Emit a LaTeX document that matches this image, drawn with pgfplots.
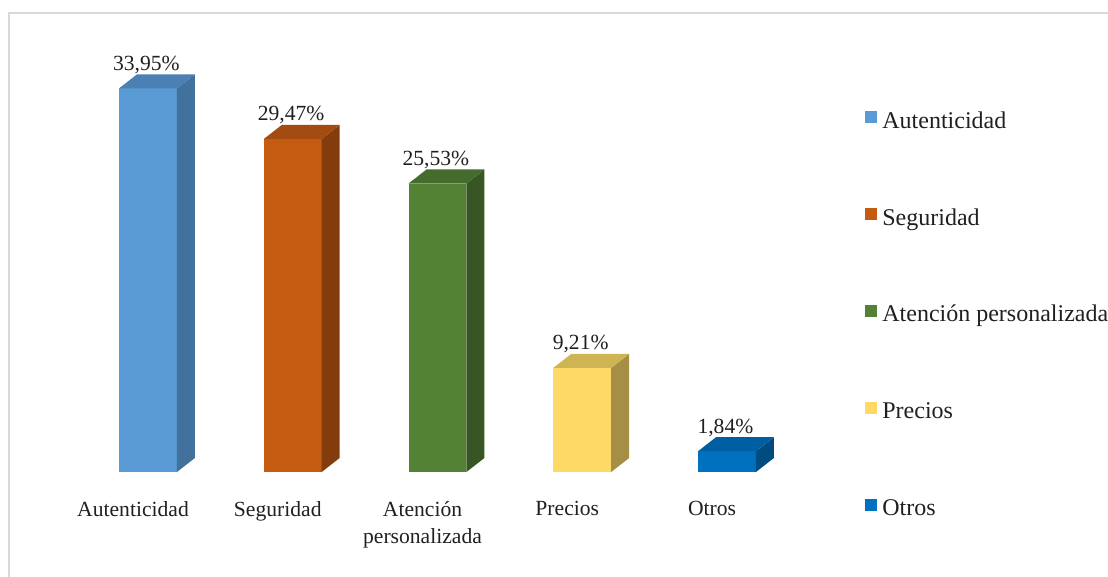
\documentclass[border=0pt]{standalone}
\usepackage{fontspec}
\setmainfont{Liberation Serif}
\usepackage{pgfplots}
\pgfplotsset{compat=1.18}
\definecolor{txt}{HTML}{202020}
\definecolor{frame}{HTML}{D9D9D9}
\definecolor{c1f}{HTML}{5B9BD5}\definecolor{c1s}{HTML}{41719C}\definecolor{c1t}{HTML}{4A80B4}
\definecolor{c2f}{HTML}{C55A11}\definecolor{c2s}{HTML}{843C0C}\definecolor{c2t}{HTML}{A34B10}
\definecolor{c3f}{HTML}{548235}\definecolor{c3s}{HTML}{375623}\definecolor{c3t}{HTML}{456C2C}
\definecolor{c4f}{HTML}{FFD966}\definecolor{c4s}{HTML}{A68F45}\definecolor{c4t}{HTML}{CFB453}
\definecolor{c5f}{HTML}{0070C0}\definecolor{c5s}{HTML}{004B80}\definecolor{c5t}{HTML}{005EA2}
\begin{document}
\begin{tikzpicture}
\begin{axis}[
  at={(0,0)}, anchor=south west,
  width=554pt, height=288.5pt, scale only axis,
  xmin=-1.0225, xmax=6.632, ymin=-9.292, ymax=41.770,
  axis line style={draw=none}, major tick style={draw=none},
  ytick=\empty, xtick={0,1,2,3,4},
  xticklabels={Autenticidad,Seguridad,{Atención\\personalizada},Precios,Otros},
  xticklabel style={align=center, anchor=north, inner sep=0pt, yshift=38pt, xshift=-7.5pt,
    font=\fontsize{10.8}{13.5}\selectfont, text=txt},
  clip=false,
  legend cell align=left,
  legend image code/.code={\fill[#1] (0pt,-0.5pt) rectangle (6pt,5.5pt);},
  legend style={at={(axis cs:4.953,31.95)}, anchor=north west, draw=none, fill=none,
    inner sep=0pt, row sep=37.4pt, column sep=2.5pt,
    nodes={inner sep=0pt, text height=8.5pt, text depth=2.5pt},
    font=\fontsize{12}{14}\selectfont, text=txt},
]
% bar 1
\addplot[fill=c1f, draw=none, forget plot] coordinates {(-0.2,0) (0.2,0) (0.2,33.95) (-0.2,33.95)};
\addplot[fill=c1s, draw=none, forget plot] coordinates {(0.2,0) (0.324,1.24) (0.324,35.19) (0.2,33.95)};
\addplot[fill=c1t, draw=none, forget plot] coordinates {(-0.2,33.95) (0.2,33.95) (0.324,35.19) (-0.076,35.19)};
% bar 2
\addplot[fill=c2f, draw=none, forget plot] coordinates {(0.8,0) (1.2,0) (1.2,29.47) (0.8,29.47)};
\addplot[fill=c2s, draw=none, forget plot] coordinates {(1.2,0) (1.324,1.24) (1.324,30.71) (1.2,29.47)};
\addplot[fill=c2t, draw=none, forget plot] coordinates {(0.8,29.47) (1.2,29.47) (1.324,30.71) (0.924,30.71)};
% bar 3
\addplot[fill=c3f, draw=none, forget plot] coordinates {(1.8,0) (2.2,0) (2.2,25.53) (1.8,25.53)};
\addplot[fill=c3s, draw=none, forget plot] coordinates {(2.2,0) (2.324,1.24) (2.324,26.77) (2.2,25.53)};
\addplot[fill=c3t, draw=none, forget plot] coordinates {(1.8,25.53) (2.2,25.53) (2.324,26.77) (1.924,26.77)};
% bar 4
\addplot[fill=c4f, draw=none, forget plot] coordinates {(2.8,0) (3.2,0) (3.2,9.21) (2.8,9.21)};
\addplot[fill=c4s, draw=none, forget plot] coordinates {(3.2,0) (3.324,1.24) (3.324,10.45) (3.2,9.21)};
\addplot[fill=c4t, draw=none, forget plot] coordinates {(2.8,9.21) (3.2,9.21) (3.324,10.45) (2.924,10.45)};
% bar 5
\addplot[fill=c5f, draw=none, forget plot] coordinates {(3.8,0) (4.2,0) (4.2,1.84) (3.8,1.84)};
\addplot[fill=c5s, draw=none, forget plot] coordinates {(4.2,0) (4.324,1.24) (4.324,3.08) (4.2,1.84)};
\addplot[fill=c5t, draw=none, forget plot] coordinates {(3.8,1.84) (4.2,1.84) (4.324,3.08) (3.924,3.08)};
% value labels
\addplot[draw=none, mark=none, forget plot, nodes near coords, point meta=explicit symbolic,
  nodes near coords style={anchor=base, inner sep=0pt, yshift=9pt, xshift=-0.8pt,
    font=\fontsize{10.8}{13}\selectfont, text=txt}]
  coordinates {(0,33.95) [33,95\%] (1,29.47) [29,47\%] (2,25.53) [25,53\%] (3,9.21) [9,21\%] (4,1.84) [1,84\%]};
% legend
\addlegendimage{fill=c1f, draw=none}\addlegendentry{Autenticidad}
\addlegendimage{fill=c2f, draw=none}\addlegendentry{Seguridad}
\addlegendimage{fill=c3f, draw=none}\addlegendentry{Atención personalizada}
\addlegendimage{fill=c4f, draw=none}\addlegendentry{Precios}
\addlegendimage{fill=c5f, draw=none}\addlegendentry{Otros}
% frame
\draw[color=frame, line width=1pt] (rel axis cs:0.00812,0) -- (rel axis cs:0.00812,0.97747) -- (rel axis cs:1,0.97747);
\end{axis}
\pgfresetboundingbox
\useasboundingbox (current axis.south west) rectangle (current axis.north east);
\end{tikzpicture}
\end{document}
